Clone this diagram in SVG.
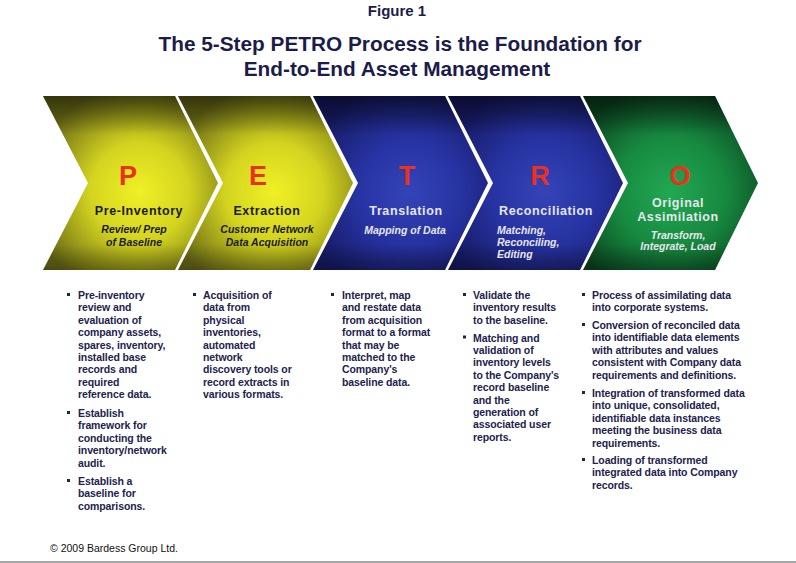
<svg xmlns="http://www.w3.org/2000/svg" width="796" height="563" viewBox="0 0 796 563">
<defs>
<radialGradient id="gy" cx="0.55" cy="0.55" r="0.62">
<stop offset="0" stop-color="#f0f026"/>
<stop offset="0.45" stop-color="#d4d420"/>
<stop offset="1" stop-color="#6a6a16"/>
</radialGradient>
<radialGradient id="gb" cx="0.55" cy="0.55" r="0.62">
<stop offset="0" stop-color="#3444b8"/>
<stop offset="0.5" stop-color="#2632a0"/>
<stop offset="1" stop-color="#161a62"/>
</radialGradient>
<radialGradient id="gg" cx="0.5" cy="0.55" r="0.62">
<stop offset="0" stop-color="#22a852"/>
<stop offset="0.5" stop-color="#178a40"/>
<stop offset="1" stop-color="#0b4520"/>
</radialGradient>
<linearGradient id="shade" x1="0" y1="0" x2="0" y2="1">
<stop offset="0" stop-color="#000" stop-opacity="0.5"/>
<stop offset="0.22" stop-color="#000" stop-opacity="0"/>
<stop offset="0.85" stop-color="#000" stop-opacity="0"/>
<stop offset="1" stop-color="#000" stop-opacity="0.3"/>
</linearGradient>
<path id="chev" d="M0,96 L132,96 L175,183 L132,270 L0,270 L45,183 Z"/>
</defs>
<style>
.title{font-family:"Liberation Sans",Arial,sans-serif;font-weight:bold;fill:#1c1c4a;text-anchor:middle}
.letter{font-family:"Liberation Sans",Arial,sans-serif;font-weight:bold;font-size:27px;fill:#e8321e;text-anchor:middle}
.head{font-family:"Liberation Sans",Arial,sans-serif;font-weight:bold;font-size:12.5px;letter-spacing:0.6px;text-anchor:middle}
.sub{font-family:"Liberation Sans",Arial,sans-serif;font-weight:bold;font-style:italic;font-size:10.5px;text-anchor:middle}
.sub.left{text-anchor:start}
.dk{fill:#1a1a1a}
.lt{fill:#e6e6ee}
.bt{font-family:"Liberation Sans",Arial,sans-serif;font-weight:bold;font-size:10.5px;letter-spacing:-0.1px;fill:#22224e}
.bl{fill:#22224e}
.foot{font-family:"Liberation Sans",Arial,sans-serif;font-size:10.5px;fill:#111}
</style>
<rect width="796" height="563" fill="#fff"/>
<text class="title" x="397" y="16" font-size="15">Figure 1</text>
<text class="title" x="400" y="51" font-size="20.8">The 5-Step PETRO Process is the Foundation for</text>
<text class="title" x="397" y="76" font-size="20.8">End-to-End Asset Management</text>

<g id="step-p">
<use href="#chev" x="43" fill="url(#gy)"/>
<use href="#chev" x="43" fill="url(#shade)"/>
<text class="letter" x="128" y="185">P</text>
<text class="head dk" x="139" y="215">Pre-Inventory</text>
<text class="sub dk" x="134" y="233">Review/ Prep</text>
<text class="sub dk" x="134" y="246">of Baseline</text>
<g class="bt">
<text x="78" y="299">Pre-inventory</text>
<text x="78" y="311.4">review and</text>
<text x="78" y="323.8">evaluation of</text>
<text x="78" y="336.2">company assets,</text>
<text x="78" y="348.6">spares, inventory,</text>
<text x="78" y="361">installed base</text>
<text x="78" y="373.4">records and</text>
<text x="78" y="385.8">required</text>
<text x="78" y="398.2">reference data.</text>
<text x="78" y="417">Establish</text>
<text x="78" y="429.4">framework for</text>
<text x="78" y="441.8">conducting the</text>
<text x="78" y="454.2">inventory/network</text>
<text x="78" y="466.6">audit.</text>
<text x="78" y="485">Establish a</text>
<text x="78" y="497.4">baseline for</text>
<text x="78" y="509.8">comparisons.</text>
</g>
<rect class="bl" x="67" y="293" width="3" height="3"/>
<rect class="bl" x="67" y="411" width="3" height="3"/>
<rect class="bl" x="67" y="479" width="3" height="3"/>
</g>

<g id="step-e">
<use href="#chev" x="178" fill="url(#gy)"/>
<use href="#chev" x="178" fill="url(#shade)"/>
<text class="letter" x="258" y="185">E</text>
<text class="head dk" x="267" y="215">Extraction</text>
<text class="sub dk" x="267" y="233">Customer Network</text>
<text class="sub dk" x="267" y="246">Data Acquisition</text>
<g class="bt">
<text x="203" y="299">Acquisition of</text>
<text x="203" y="311.4">data from</text>
<text x="203" y="323.8">physical</text>
<text x="203" y="336.2">inventories,</text>
<text x="203" y="348.6">automated</text>
<text x="203" y="361">network</text>
<text x="203" y="373.4">discovery tools or</text>
<text x="203" y="385.8">record extracts in</text>
<text x="203" y="398.2">various formats.</text>
</g>
<rect class="bl" x="193" y="293" width="3" height="3"/>
</g>

<g id="step-t">
<use href="#chev" x="313" fill="url(#gb)"/>
<use href="#chev" x="313" fill="url(#shade)"/>
<text class="letter" x="407" y="185">T</text>
<text class="head lt" x="406" y="215">Translation</text>
<text class="sub lt" x="405" y="234">Mapping of Data</text>
<g class="bt">
<text x="342" y="299">Interpret, map</text>
<text x="342" y="311.4">and restate data</text>
<text x="342" y="323.8">from acquisition</text>
<text x="342" y="336.2">format to a format</text>
<text x="342" y="348.6">that may be</text>
<text x="342" y="361">matched to the</text>
<text x="342" y="373.4">Company's</text>
<text x="342" y="385.8">baseline data.</text>
</g>
<rect class="bl" x="331" y="293" width="3" height="3"/>
</g>

<g id="step-r">
<use href="#chev" x="448" fill="url(#gb)"/>
<use href="#chev" x="448" fill="url(#shade)"/>
<text class="letter" x="540" y="185">R</text>
<text class="head lt" x="546" y="215">Reconciliation</text>
<text class="sub left lt" x="497" y="234">Matching,</text>
<text class="sub left lt" x="497" y="246">Reconciling,</text>
<text class="sub left lt" x="497" y="258">Editing</text>
<g class="bt">
<text x="473" y="299">Validate the</text>
<text x="473" y="311.4">inventory results</text>
<text x="473" y="323.8">to the baseline.</text>
<text x="473" y="341.5">Matching and</text>
<text x="473" y="353.9">validation of</text>
<text x="473" y="366.3">inventory levels</text>
<text x="473" y="378.7">to the Company's</text>
<text x="473" y="391.1">record baseline</text>
<text x="473" y="403.5">and the</text>
<text x="473" y="415.9">generation of</text>
<text x="473" y="428.3">associated user</text>
<text x="473" y="440.7">reports.</text>
</g>
<rect class="bl" x="463" y="293" width="3" height="3"/>
<rect class="bl" x="463" y="335.5" width="3" height="3"/>
</g>

<g id="step-o">
<use href="#chev" x="583" fill="url(#gg)"/>
<use href="#chev" x="583" fill="url(#shade)"/>
<text class="letter" x="680" y="185">O</text>
<text class="head lt" x="678" y="207">Original</text>
<text class="head lt" x="678" y="221">Assimilation</text>
<text class="sub lt" x="678" y="239">Transform,</text>
<text class="sub lt" x="678" y="250">Integrate, Load</text>
<g class="bt">
<text x="592" y="299">Process of assimilating data</text>
<text x="592" y="311.4">into corporate systems.</text>
<text x="592" y="329">Conversion of reconciled data</text>
<text x="592" y="341.4">into identifiable data elements</text>
<text x="592" y="353.8">with attributes and values</text>
<text x="592" y="366.2">consistent with Company data</text>
<text x="592" y="378.6">requirements and definitions.</text>
<text x="592" y="397">Integration of transformed data</text>
<text x="592" y="409.4">into unique, consolidated,</text>
<text x="592" y="421.8">identifiable data instances</text>
<text x="592" y="434.2">meeting the business data</text>
<text x="592" y="446.6">requirements.</text>
<text x="592" y="464">Loading of transformed</text>
<text x="592" y="476.4">integrated data into Company</text>
<text x="592" y="488.8">records.</text>
</g>
<rect class="bl" x="582" y="293" width="3" height="3"/>
<rect class="bl" x="582" y="323" width="3" height="3"/>
<rect class="bl" x="582" y="391" width="3" height="3"/>
<rect class="bl" x="582" y="458" width="3" height="3"/>
</g>

<text class="foot" x="50" y="552">© 2009 Bardess Group Ltd.</text>
<line x1="0" y1="562" x2="796" y2="562" stroke="#8a8a8a" stroke-width="1.5"/>
</svg>
